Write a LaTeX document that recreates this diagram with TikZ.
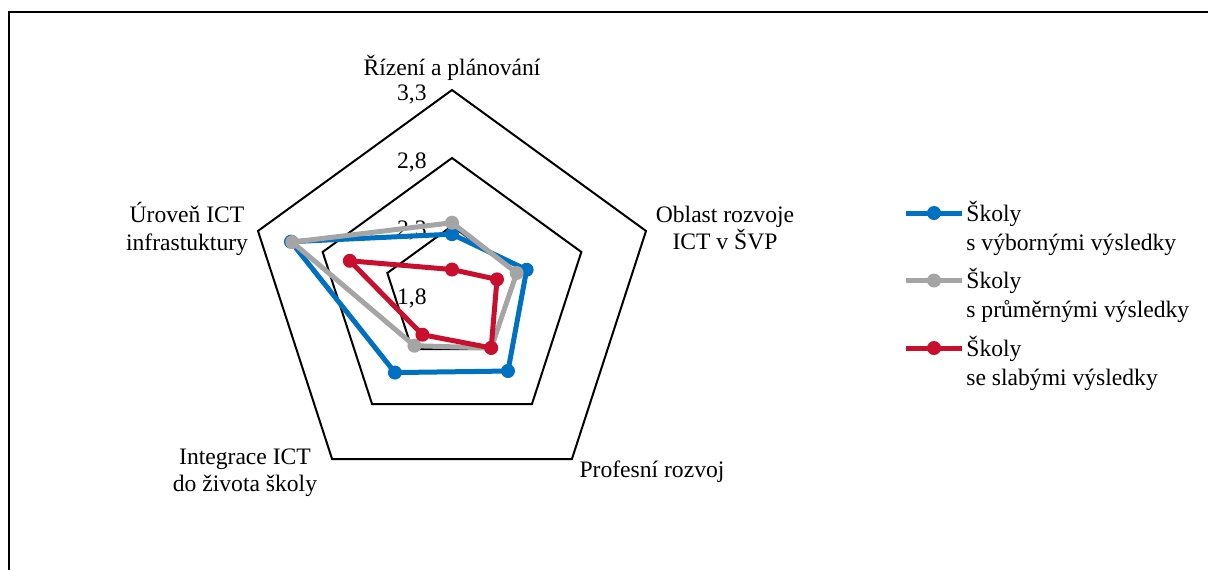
\documentclass[tikz,border=0pt]{standalone}
\usepackage{fontspec}
\setmainfont{Liberation Serif}
\usetikzlibrary{calc}
\definecolor{goodblue}{RGB}{0,112,192}
\definecolor{avggray}{RGB}{165,165,165}
\definecolor{weakred}{RGB}{200,16,46}
\tikzset{
  grid/.style={black,line width=1pt,line join=miter},
  series/.style={line width=2.5pt,line join=round},
  dot/.style={circle,inner sep=0pt,minimum size=7pt},
  lbl/.style={font=\fontsize{11.8}{13.7}\selectfont,inner sep=0pt},
  oneline/.style={lbl,text height=8.2pt,text depth=0pt},
}
\newcommand\radarline[6]{%
  \draw[series,#1] (90:{(#2-1.8)*136}) -- (18:{(#3-1.8)*136}) -- (-54:{(#4-1.8)*136})
    -- (-126:{(#5-1.8)*136}) -- (162:{(#6-1.8)*136}) -- cycle;
  \foreach \a/\v in {90/#2,18/#3,-54/#4,-126/#5,162/#6}
    \fill[#1] (\a:{(\v-1.8)*136}) circle (7);
}
\begin{document}
\begin{tikzpicture}[x=0.5pt,y=0.5pt]
  \useasboundingbox (-452,-276) rectangle (756,294);
  \draw[line width=1pt] (-443,-276) -- (-443,282) -- (756,282);
  \foreach \r in {68,136,204}
    \draw[grid] (90:\r) -- (18:\r) -- (-54:\r) -- (-126:\r) -- (162:\r) -- cycle;
  \foreach \r/\t in {0/{1,8},68/{2,3},136/{2,8},204/{3,3}}
    \node[oneline,anchor=east] (val\r) at (-25,\r-2) {\t};
  \node[lbl] (rizeni) at (0,226) {Řízení a plánování};
  \node[lbl,align=center] (oblast) at (273,66) {Oblast rozvoje\\ICT v ŠVP};
  \node[lbl] (profes) at (200,-178) {Profesní rozvoj};
  \node[lbl,align=center] (integr) at (-207,-179) {Integrace ICT\\do života školy};
  \node[lbl,align=center] (uroven) at (-265,65) {Úroveň ICT\\infrastuktury};
  \radarline{goodblue}{2.24}{2.377}{2.50}{2.514}{3.045}
  \radarline{avggray}{2.324}{2.30}{2.29}{2.27}{3.035}
  \radarline{weakred}{1.98}{2.148}{2.29}{2.17}{2.59}
  \foreach \c/\t [count=\i] in {goodblue/s výbornými výsledky,avggray/s průměrnými výsledky,weakred/se slabými výsledky}{
    \coordinate (leg\i) at (454,{148.5-67.5*\i});
    \draw[series,\c] (leg\i) -- ++(56,0) node[midway,dot,fill=\c] {};
    \node[oneline,anchor=west] (legA\i) at ($(leg\i)+(60,0)$) {Školy};
    \node[oneline,anchor=west] (legB\i) at ($(leg\i)+(60,-29)$) {\t};
  }
\end{tikzpicture}
\end{document}
